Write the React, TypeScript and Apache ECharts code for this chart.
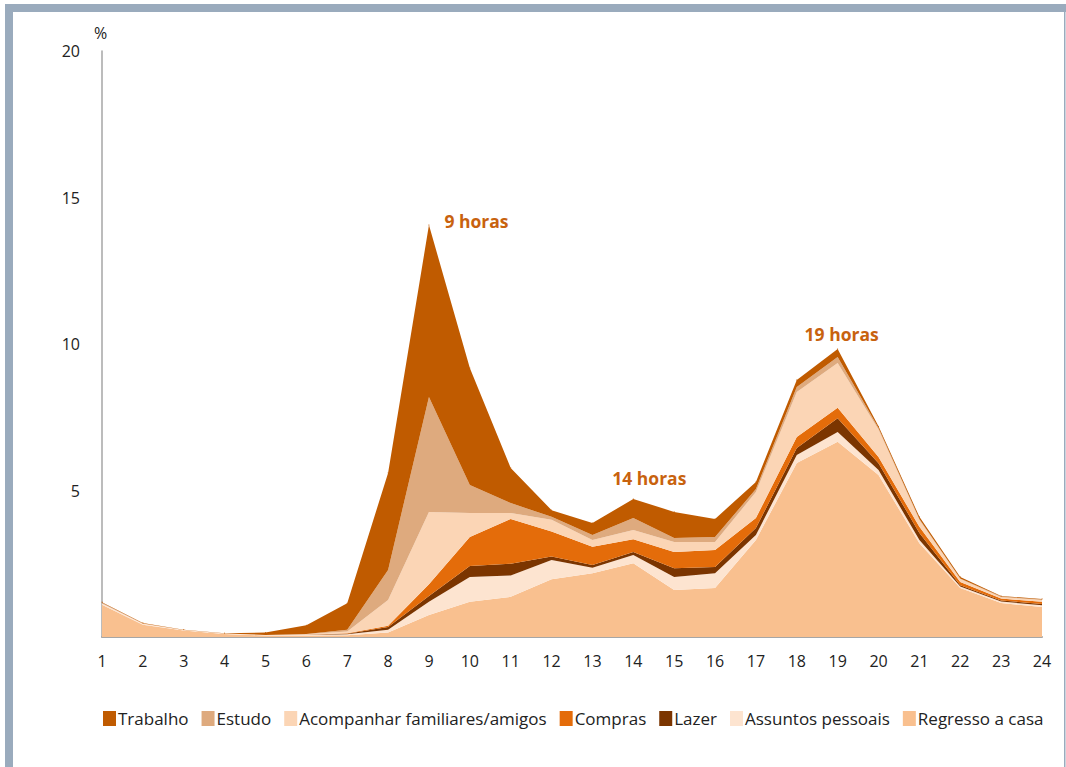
import React, { useEffect, useRef } from "react";
import * as echarts from "echarts";

const hours = ["1","2","3","4","5","6","7","8","9","10","11","12","13","14","15","16","17","18","19","20","21","22","23","24"];

const regresso = [1.1,0.42,0.22,0.1,0.05,0.05,0.06,0.15,0.75,1.2,1.37,1.97,2.18,2.52,1.6,1.67,3.31,5.94,6.66,5.53,3.2,1.67,1.16,1.02];
const assuntos = [0.05,0.04,0.02,0.02,0.02,0.02,0.03,0.1,0.45,0.85,0.73,0.66,0.18,0.28,0.45,0.51,0.17,0.27,0.34,0.17,0.11,0.05,0.05,0.06];
const lazer = [0.01,0.0,0.0,0.0,0.0,0.01,0.02,0.09,0.2,0.37,0.4,0.12,0.1,0.1,0.3,0.21,0.24,0.24,0.47,0.23,0.24,0.05,0.04,0.05];
const compras = [0.0,0.0,0.0,0.0,0.0,0.0,0.02,0.04,0.4,0.99,1.53,0.85,0.62,0.44,0.55,0.58,0.34,0.38,0.35,0.21,0.21,0.11,0.06,0.07];
const acompanhar = [0.01,0.0,0.0,0.0,0.0,0.02,0.06,0.88,2.47,0.82,0.2,0.4,0.23,0.31,0.34,0.27,0.89,1.53,1.53,0.94,0.23,0.1,0.05,0.06];
const estudo = [0.0,0.0,0.0,0.0,0.0,0.0,0.06,1.03,3.92,0.96,0.34,0.1,0.17,0.41,0.14,0.17,0.1,0.17,0.21,0.05,0.04,0.02,0.02,0.02];
const trabalho = [0.02,0.02,0.01,0.01,0.08,0.3,0.9,3.31,5.87,3.99,1.2,0.23,0.41,0.65,0.89,0.62,0.24,0.24,0.27,0.06,0.07,0.05,0.02,0.02];

const yTicks = [0, 5, 10, 15, 20];
const peakLabels: Record<number, string> = { 8: "9 horas", 13: "14 horas", 18: "19 horas" };

const seriesDefs = [
  { name: "Regresso a casa", data: regresso, color: "#F9C08F" },
  { name: "Assuntos pessoais", data: assuntos, color: "#FDE4D0" },
  { name: "Lazer", data: lazer, color: "#7B3500" },
  { name: "Compras", data: compras, color: "#E46C0A" },
  { name: "Acompanhar familiares/amigos", data: acompanhar, color: "#FBD5B5" },
  { name: "Estudo", data: estudo, color: "#DEAA7E" },
  { name: "Trabalho", data: trabalho, color: "#C05B00" },
];
const legendOrder = ["Trabalho","Estudo","Acompanhar familiares/amigos","Compras","Lazer","Assuntos pessoais","Regresso a casa"];

const FONT = "'Open Sans', 'Noto Sans', sans-serif";

export default function App() {
  const ref = useRef<HTMLDivElement>(null);
  useEffect(() => {
    if (!ref.current) return;
    const chart = echarts.init(ref.current, undefined, { renderer: "svg" });
    const labelPos: Record<number, any> = {
      8: { position: "right", offset: [10, -4] },
      13: { position: "top", offset: [16, -6] },
      18: { position: "top", offset: [4, 0] },
    };
    chart.setOption({
      animation: false,
      backgroundColor: "#ffffff",
      textStyle: { fontFamily: FONT },
      graphic: [
        { type: "rect", shape: { x: 5, y: 4, width: 1061, height: 8 }, style: { fill: "#9AABBD" }, silent: true },
        { type: "rect", shape: { x: 5, y: 4, width: 8, height: 763 }, style: { fill: "#9AABBD" }, silent: true },
        { type: "rect", shape: { x: 1064, y: 4, width: 1.5, height: 763 }, style: { fill: "#9AABBD" }, silent: true },
      ],
      grid: { left: 102, right: 24, top: 51, bottom: 130, containLabel: false },
      legend: {
        data: legendOrder,
        bottom: 40,
        left: 103,
        padding: 0,
        itemWidth: 13,
        itemHeight: 15,
        itemGap: 13,
        icon: "rect",
        textStyle: { fontFamily: FONT, fontSize: 17, color: "#222", padding: [0, 0, 0, -3] },
      },
      xAxis: {
        type: "category",
        data: hours,
        boundaryGap: false,
        axisLine: { lineStyle: { color: "#A6A6A6", width: 2 } },
        axisTick: { show: false },
        axisLabel: { fontFamily: FONT, fontSize: 16, color: "#222", margin: 16 },
      },
      yAxis: {
        type: "value",
        min: 0,
        max: 20,
        interval: 5,
        name: "%",
        nameGap: 10,
        nameTextStyle: { fontFamily: FONT, fontSize: 16, color: "#222", align: "left", padding: [0, 0, 0, -8] },
        axisLine: { show: true, lineStyle: { color: "#A6A6A6", width: 1.5 } },
        axisTick: { show: false },
        splitLine: { show: false },
        axisLabel: {
          fontFamily: FONT, fontSize: 16, color: "#222", margin: 22,
          formatter: (v: number) => (yTicks.includes(v) && v !== 0 ? String(v) : ""),
        },
      },
      series: seriesDefs.map((s) => {
        const isTop = s.name === "Trabalho";
        return {
          name: s.name,
          type: "line",
          stack: "total",
          symbol: isTop ? "circle" : "none",
          symbolSize: isTop ? 1 : 0,
          showSymbol: isTop,
          lineStyle: { width: 0 },
          itemStyle: { color: s.color },
          areaStyle: { color: s.color, opacity: 1 },
          emphasis: { disabled: true },
          z: 2,
          data: isTop
            ? s.data.map((v, i) =>
                peakLabels[i]
                  ? {
                      value: v,
                      label: {
                        show: true,
                        formatter: peakLabels[i],
                        fontFamily: FONT,
                        fontSize: 17.5,
                        fontWeight: "bold",
                        color: "#C8620E",
                        ...labelPos[i],
                      },
                    }
                  : v
              )
            : s.data,
        };
      }),
    });
    return () => chart.dispose();
  }, []);
  return (
    <div style={{ position: "fixed", left: 0, top: 0, width: 1066, height: 767 }}>
      <div ref={ref} style={{ width: 1066, height: 767 }} />
    </div>
  );
}
